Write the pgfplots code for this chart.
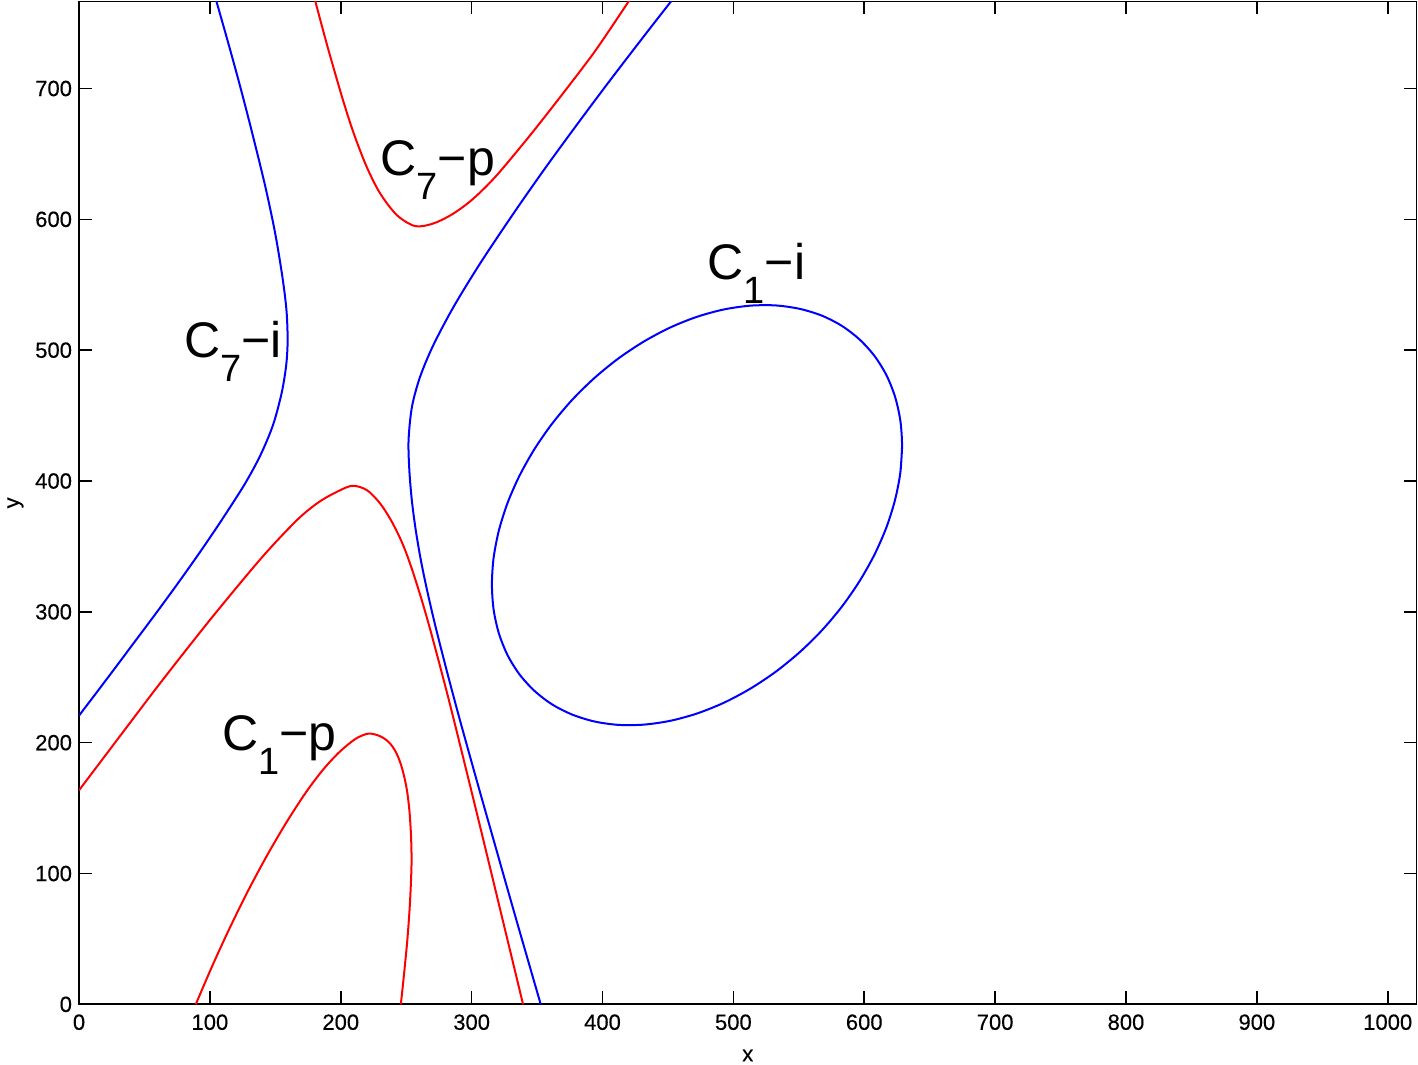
\documentclass[border=0pt]{standalone}
\usepackage{fontspec}
\setmainfont{Liberation Sans}
\newfontfamily\tickfont{Liberation Sans}[FakeBold=0.3]
\usepackage{pgfplots}
\pgfplotsset{compat=1.18}
\definecolor{mblue}{rgb}{0,0,1}
\definecolor{mred}{rgb}{1,0,0}
\newcommand{\lab}[2]{\fontsize{25}{25}\selectfont C\raisebox{-12pt}{\fontsize{19}{19}\selectfont #1}−#2}
\begin{document}
\begin{tikzpicture}
\begin{axis}[
  scale only axis, width=668.5pt, height=501.25pt,
  xmin=0, xmax=1022, ymin=0, ymax=766.5,
  xtick={0,100,...,1000}, ytick={0,100,...,700},
  tick align=inside, major tick length=6.5pt,
  axis line style={line width=0.9pt},
  every tick/.style={black, line width=0.8pt},
  tick label style={font=\tickfont\fontsize{11}{13}\selectfont},
  xticklabel style={yshift=-1.5pt},
  /pgf/number format/assume math mode=true,
  /pgf/number format/1000 sep={},
  xlabel={x}, ylabel={y},
  label style={font=\tickfont\fontsize{11}{13}\selectfont},
  xlabel style={yshift=-3pt},
  ylabel style={yshift=-1pt},
  every axis plot/.append style={line width=1pt},
]
\coordinate (ll) at (rel axis cs:0,0);
\coordinate (ur) at (rel axis cs:1,1);
% C7-i (blue)
\addplot[mblue, smooth] coordinates {
(104.6,768) (114.1,734.5) (123.2,701.3) (132.4,665.7) (142.4,624.8) (149.9,589.2)
(155.4,556.0) (158.5,530.6) (159.4,507.6) (158.3,488.5) (154.8,467.1) (148.2,442.7)
(138.6,419.7) (126.6,397.6) (109.3,370.6) (92.4,345.6) (75.4,321.6) (60.5,301.2)
(45.3,280.8) (20.5,247.7) (0,220.7)};
% C7-p (red)
\addplot[mred, smooth] coordinates {
(180.2,768) (185.6,747.7) (191.7,725.5) (201.7,691.1) (209.9,665.7) (219.8,640.1)
(230.1,619.8) (242.9,603.2) (256.9,594.8) (270.9,596.9) (286.2,604.5) (301.5,616.0)
(319.3,633.8) (344.8,664.4) (369.7,696.1) (394.9,729.4) (420.9,768)};
% long blue curve
\addplot[mblue, smooth] coordinates {
(453.5,768) (433.3,742.1) (407.8,708.9) (383.0,675.8) (356.9,640.1) (332.0,604.5)
(306.5,566.3) (286.2,533.1) (270.7,503.8) (260.6,479.6) (254.4,456.7) (251.8,431.2)
(252.4,408.3) (254.3,385.3) (257.3,362.4) (261.5,337.9) (266.8,312.7) (273.1,285.9)
(281.9,251.5) (291.1,217.1) (305.3,166.1) (318.3,120.3) (332.8,69.3) (352.8,0)};
% middle red curve
\addplot[mred, smooth] coordinates {
(0,163.6) (31.8,205.7) (63.7,247.7) (101.9,296.1) (140.1,342.0) (166.4,370.0)
(181.7,382.8) (194.4,390.4) (208.5,396.3) (220.0,393.0) (230.1,382.8) (238.4,370.0)
(245.0,357.0) (249.8,345.6) (255.5,329.3) (261.9,308.9) (268.5,285.9) (278.7,247.7)
(286.5,217.1) (305.3,140.7) (323.8,64.2) (339.3,0)};
% C1-p (red)
\addplot[mred, smooth] coordinates {
(89.2,0) (101.7,29.1) (114.7,57.4) (128.4,85.3) (143.0,112.6) (158.3,138.8)
(173.5,162.2) (186.5,179.4) (198.8,192.7) (210.2,202.2) (217.1,205.8) (221.7,207.0)
(226.2,206.3) (230.6,204.7) (234.5,202.3) (237.8,199.2) (241.0,194.8) (243.7,189.4)
(246.1,182.9) (248.5,174.0) (250.7,162.8) (252.5,147.6) (253.7,128.5) (254.1,109.4)
(253.5,90.3) (252.5,71.3) (250.8,48.4) (248.2,21.7) (245.9,0)};
% C1-i ellipse (blue)
\addplot[mblue, smooth] coordinates {
(628.9,426.8) (627.6,406.5) (623.6,385.8) (617.0,364.7) (607.9,343.9) (596.5,323.6)
(583.0,304.1) (567.6,285.8) (550.6,269.1) (532.2,254.1) (512.8,241.2) (492.7,230.5)
(472.2,222.3) (451.7,216.7) (431.6,213.8) (412.2,213.6) (393.8,216.2) (376.8,221.5)
(361.4,229.3) (347.9,239.7) (336.5,252.3) (327.4,267.0) (320.8,283.6) (316.8,301.7)
(315.5,321.0) (316.8,341.3) (320.8,362.1) (327.4,383.1) (336.5,403.9) (347.9,424.2)
(361.4,443.7) (376.8,462.0) (393.8,478.7) (412.2,493.7) (431.6,506.6) (451.7,517.3)
(472.2,525.5) (492.7,531.1) (512.8,534.0) (532.2,534.2) (550.6,531.6) (567.6,526.4)
(583.0,518.5) (596.5,508.1) (607.9,495.5) (617.0,480.8) (623.6,464.2) (627.6,446.1)
(628.9,426.8) (627.6,406.5)};
\node[anchor=base west, inner sep=0pt] at (axis cs:230.1,633.8) {\lab{7}{p}};
\node[anchor=base west, inner sep=0pt] at (axis cs:480.1,554.3) {\lab{1}{i}};
\node[anchor=base west, inner sep=0pt] at (axis cs:80.3,494.6) {\lab{7}{i}};
\node[anchor=base west, inner sep=0pt] at (axis cs:109.3,194.2) {\lab{1}{p}};
\end{axis}
\pgfresetboundingbox
\path[use as bounding box] ([xshift=-39.5pt,yshift=-30pt]ll) rectangle ([xshift=0.75pt,yshift=0.75pt]ur);
\end{tikzpicture}
\end{document}
